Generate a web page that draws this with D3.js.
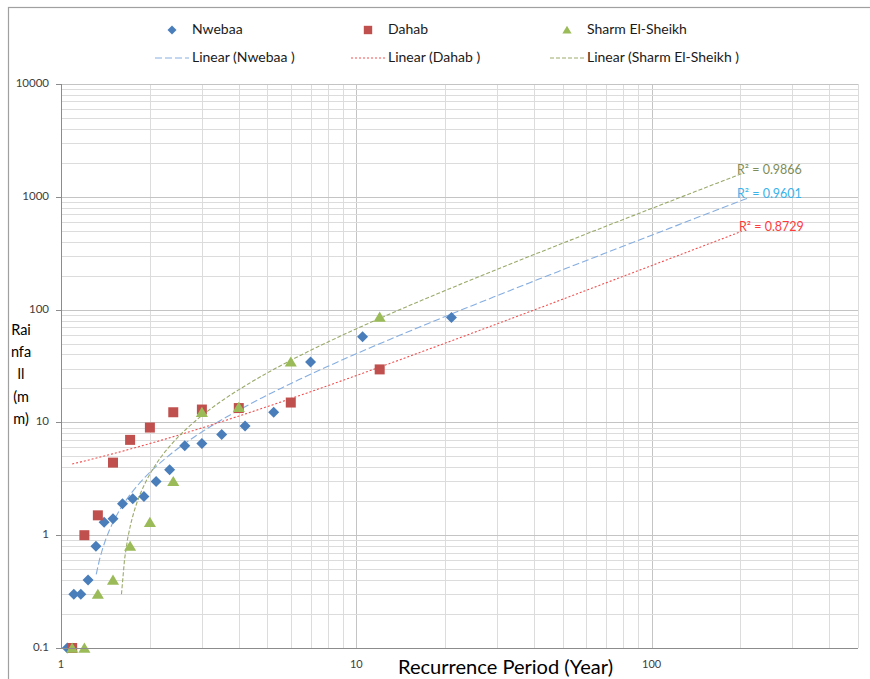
<!DOCTYPE html>
<html>
<head>
<meta charset="utf-8">
<script src="https://cdn.jsdelivr.net/npm/d3@7/dist/d3.min.js"></script>
<style>
    body { margin: 0; background: #fff; }
    text { font-family: Lato, "Open Sans", sans-serif; }
</style>
</head>
<body>
<div id="rainfall_chart"></div>
<script>
// Recurrence period (years) and rainfall (mm) per station
var nwebaaPeriod = [21, 10.5, 7, 5.25, 4.2, 3.5, 3, 2.625, 2.333, 2.1, 1.909, 1.75, 1.615, 1.5, 1.4, 1.313, 1.235, 1.167, 1.105, 1.05];
var nwebaaRain   = [85, 57.5, 34.4, 12.3, 9.3, 7.8, 6.5, 6.2, 3.8, 3.0, 2.2, 2.1, 1.9, 1.4, 1.3, 0.8, 0.4, 0.3, 0.3, 0.1];

var dahabPeriod = [12, 6, 4, 3, 2.4, 2, 1.714, 1.5, 1.333, 1.2, 1.091];
var dahabRain   = [29.5, 15, 13.4, 13, 12.3, 9, 7, 4.4, 1.5, 1.0, 0.1];

var sharmPeriod = [12, 6, 4, 3, 2.4, 2, 1.714, 1.5, 1.333, 1.2, 1.091];
var sharmRain   = [86, 34.4, 13.6, 12.3, 3.0, 1.3, 0.8, 0.4, 0.3, 0.1, 0.1];

var seriesNames = ["Nwebaa", "Dahab", "Sharm El-Sheikh"];
var r2Labels = ["0.9601", "0.8729", "0.9866"];
var trendForward = 190;              // forecast length of the trendlines (years)
var trendFloor = [0.45, 0.1, 0.3];   // lowest visible point of each trendline

var yTickValues = [0.1, 1, 10, 100, 1000, 10000];
var xTickValues = [1, 10, 100];

function rainfall_chart() {
    var w = 870;
    var h = 679;

    var series = [
        { name: seriesNames[0], period: nwebaaPeriod, rain: nwebaaRain, shape: "diamond",
          color: "#4A7EBB", trend: "#86AEE0", dash: "7,3", label: "#3AB2EA" },
        { name: seriesNames[1], period: dahabPeriod, rain: dahabRain, shape: "square",
          color: "#C0504D", trend: "#F25050", dash: "2,2", label: "#FF3B3B" },
        { name: seriesNames[2], period: sharmPeriod, rain: sharmRain, shape: "triangle",
          color: "#9BBB59", trend: "#9AAA6A", dash: "4,2", label: "#7E8C57" }
    ];

    var xScale = d3.scaleLog().domain([1, 500]).range([61, 858]);
    var yScale = d3.scaleLog().domain([0.1, 10000]).range([648, 84]);

    var svg = d3.select("#rainfall_chart")
        .append("svg")
        .attr("width", w)
        .attr("height", h);

    // chart border
    svg.append("rect")
        .attr("x", 8.5).attr("y", 7.5)
        .attr("width", 900).attr("height", 700)
        .attr("fill", "none")
        .attr("stroke", "#a0a0a0")
        .attr("stroke-width", 1.2);

    // grid lines
    var grid = svg.append("g");
    grid.selectAll(".vgrid")
        .data(xScale.ticks())
        .enter().append("line")
        .attr("x1", d => Math.round(xScale(d)) + 0.5)
        .attr("x2", d => Math.round(xScale(d)) + 0.5)
        .attr("y1", 84).attr("y2", 648)
        .attr("stroke", d => xTickValues.indexOf(d) >= 0 ? "#c4c4c4" : "#dcdcdc");
    grid.selectAll(".hgrid")
        .data(yScale.ticks())
        .enter().append("line")
        .attr("x1", 61).attr("x2", 858)
        .attr("y1", d => Math.round(yScale(d)) + 0.5)
        .attr("y2", d => Math.round(yScale(d)) + 0.5)
        .attr("stroke", d => yTickValues.indexOf(d) >= 0 ? "#c4c4c4" : "#dcdcdc");

    // linear trendlines (least squares, drawn on the log-log axes)
    series.forEach(function(s, i) {
        var mx = d3.mean(s.period), my = d3.mean(s.rain);
        var sxy = d3.sum(s.period, (p, k) => (p - mx) * (s.rain[k] - my));
        var sxx = d3.sum(s.period, p => (p - mx) * (p - mx));
        var slope = sxy / sxx;
        var intercept = my - slope * mx;
        var t0 = Math.max(d3.min(s.period), (trendFloor[i] - intercept) / slope);
        var t1 = d3.max(s.period) + trendForward;
        var pts = d3.range(0, 201).map(function(k) {
            var t = t0 * Math.pow(t1 / t0, k / 200);
            return [t, slope * t + intercept];
        });
        s.end = pts[pts.length - 1];

        svg.append("path")
            .datum(pts)
            .attr("fill", "none")
            .attr("stroke", s.trend)
            .attr("stroke-width", 1.1)
            .attr("stroke-dasharray", s.dash)
            .attr("d", d3.line().x(d => xScale(d[0])).y(d => yScale(d[1])));
    });

    // R² labels
    series.forEach(function(s, i) {
        svg.append("text")
            .attr("x", i === 1 ? 739 : 737)
            .attr("y", yScale(s.end[1]) - 3)
            .attr("dominant-baseline", "middle")
            .style("font-size", "12.5px")
            .style("fill", s.label)
            .text("R² = " + r2Labels[i]);
    });

    function marker(shape, r) {
        if (shape === "diamond") return `M0,${-r}L${r},0L0,${r}L${-r},0Z`;
        if (shape === "square") return `M${-r},${-r}H${r}V${r}H${-r}Z`;
        return `M0,${-r}L${r * 1.1},${r * 0.85}H${-r * 1.1}Z`;
    }
    var markerSize = { diamond: 5.5, square: 5, triangle: 5.5 };

    // data points
    series.forEach(function(s) {
        svg.append("g").selectAll("path")
            .data(s.period.map((p, k) => [p, s.rain[k]]))
            .enter().append("path")
            .attr("transform", d => `translate(${xScale(d[0])},${yScale(d[1])})`)
            .attr("d", marker(s.shape, markerSize[s.shape]))
            .attr("fill", s.color);
    });

    // axes
    svg.append("line")
        .attr("x1", 61.5).attr("x2", 61.5).attr("y1", 84).attr("y2", 648)
        .attr("stroke", "#8c8c8c");
    svg.append("line")
        .attr("x1", 61).attr("x2", 858).attr("y1", 648.5).attr("y2", 648.5)
        .attr("stroke", "#8c8c8c");
    svg.selectAll(".ytick")
        .data(yTickValues)
        .enter().append("line")
        .attr("x1", 56).attr("x2", 61)
        .attr("y1", d => Math.round(yScale(d)) + 0.5)
        .attr("y2", d => Math.round(yScale(d)) + 0.5)
        .attr("stroke", "#8c8c8c");
    svg.selectAll(".ylab")
        .data(yTickValues)
        .enter().append("text")
        .attr("x", 49)
        .attr("y", d => yScale(d))
        .attr("text-anchor", "end")
        .attr("dominant-baseline", "middle")
        .style("font-size", "11.5px")
        .style("fill", "#404040")
        .text(d => d);
    svg.selectAll(".xlab")
        .data(xTickValues)
        .enter().append("text")
        .attr("x", d => xScale(d))
        .attr("y", 665)
        .attr("text-anchor", "middle")
        .attr("dominant-baseline", "middle")
        .style("font-size", "11px")
        .style("fill", "#404040")
        .text(d => d);

    // axis titles
    svg.append("text")
        .attr("x", 398).attr("y", 674)
        .attr("textLength", 215)
        .attr("lengthAdjust", "spacingAndGlyphs")
        .style("font-size", "18.5px")
        .style("fill", "#000")
        .text("Recurrence Period (Year)");

    svg.append("text")
        .attr("text-anchor", "middle")
        .style("font-size", "14.5px")
        .style("fill", "#000")
        .selectAll("tspan")
        .data(["Rai", "nfa", "ll", "(m", "m)"])
        .enter().append("tspan")
        .attr("x", 21)
        .attr("y", (d, i) => 335 + i * 22.2)
        .text(d => d);

    // legend
    var legendX = [172, 368, 567];
    series.forEach(function(s, i) {
        svg.append("path")
            .attr("transform", `translate(${legendX[i]},30)`)
            .attr("d", marker(s.shape, s.shape === "diamond" ? 4.5 : 4.2))
            .attr("fill", s.color);
        svg.append("text")
            .attr("x", legendX[i] + 20).attr("y", 30)
            .attr("dominant-baseline", "middle")
            .style("font-size", "14px")
            .style("fill", "#1a1a1a")
            .text(s.name);
        svg.append("line")
            .attr("x1", legendX[i] - 17).attr("x2", legendX[i] + 17)
            .attr("y1", 58).attr("y2", 58)
            .attr("stroke", s.trend)
            .attr("stroke-dasharray", s.dash);
        svg.append("text")
            .attr("x", legendX[i] + 20).attr("y", 58)
            .attr("dominant-baseline", "middle")
            .style("font-size", "14px")
            .style("fill", "#1a1a1a")
            .text("Linear (" + s.name + " )");
    });
}

rainfall_chart();
</script>
</body>
</html>
